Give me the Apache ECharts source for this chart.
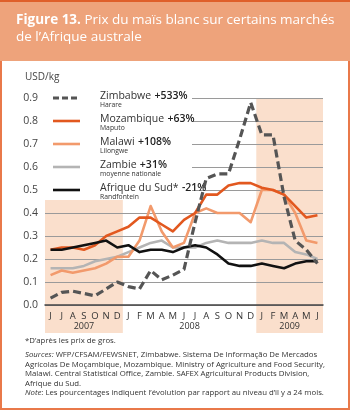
<!DOCTYPE html>
<html>
<head>
<meta charset="utf-8">
<script src="https://cdn.jsdelivr.net/npm/echarts@6/dist/echarts.min.js"></script>
<style>
  html, body { margin: 0; padding: 0; background: #fff; }
  #chart { width: 350px; height: 410px; }
</style>
</head>
<body>
<div id="chart"></div>
<script>
// month initials, June 2007 -> June 2009
const months = ['J','J','A','S','O','N','D','J','F','M','A','M','J','J','A','S','O','N','D','J','F','M','A','M','J']
const yearLabels = ['2007', '2008', '2009']
const yearSpans = [[0, 6], [7, 18], [19, 24]]
const yTicks = [0, 0.1, 0.2, 0.3, 0.4, 0.5, 0.6, 0.7, 0.8, 0.9]

// USD/kg
const zimbabwe    = [0.03,0.055,0.06,0.05,0.04,0.07,0.10,0.08,0.07,0.15,0.11,0.13,0.155,0.36,0.55,0.57,0.57,0.72,0.88,0.74,0.74,0.47,0.28,0.24,0.18]
const mozambique  = [0.24,0.25,0.25,0.24,0.26,0.30,0.32,0.34,0.38,0.38,0.35,0.32,0.37,0.40,0.48,0.48,0.52,0.53,0.53,0.51,0.50,0.48,0.43,0.38,0.39]
const malawi      = [0.13,0.15,0.14,0.15,0.16,0.18,0.21,0.21,0.28,0.43,0.32,0.25,0.27,0.40,0.42,0.40,0.40,0.40,0.36,0.50,0.50,0.48,0.40,0.28,0.27]
const zambie      = [0.16,0.16,0.16,0.17,0.19,0.20,0.21,0.23,0.25,0.27,0.28,0.25,0.25,0.25,0.27,0.28,0.27,0.27,0.27,0.28,0.27,0.27,0.23,0.22,0.20]
const afriqueSud  = [0.24,0.24,0.25,0.26,0.27,0.28,0.25,0.26,0.23,0.24,0.24,0.23,0.25,0.26,0.25,0.22,0.18,0.17,0.17,0.18,0.17,0.16,0.18,0.19,0.19]

const names   = ['Zimbabwe', 'Mozambique', 'Malawi', 'Zambie', 'Afrique du Sud*']
const changes = ['+533%', '+63%', '+108%', '+31%', '-21%']
const markets = ['Harare', 'Maputo', 'Lilongwe', 'moyenne nationale', 'Randfontein']
const values  = [zimbabwe, mozambique, malawi, zambie, afriqueSud]

const colors = ['#555555', '#e2581f', '#f29a6c', '#b4b4b4', '#111111']
const FONT = '"Open Sans", sans-serif'
const BAND = '#fadfcc'
const ORANGE = '#e9794a'

let chart = echarts.init(document.getElementById('chart'), null, { renderer: 'canvas' })

// draw grey/orange/black first so the dashed Zimbabwe line ends on top
const drawOrder = [3, 2, 1, 4, 0]
const series = drawOrder.map(i => ({
  name: names[i],
  type: 'line',
  data: values[i],
  symbol: 'none',
  z: 3 + drawOrder.indexOf(i),
  lineStyle: {
    color: colors[i],
    width: i === 0 ? 3.2 : 2.6,
    type: i === 0 ? [8, 4] : 'solid',
    cap: 'butt',
    join: 'round'
  }
}))

chart.setOption({
  animation: false,
  textStyle: { fontFamily: FONT },
  title: {
    text: '{b|Figure 13.} Prix du maïs blanc sur certains marchés\nde l\u2019Afrique australe',
    left: 11,
    top: 7,
    textStyle: {
      color: '#fff', fontSize: 13.5, fontWeight: 'normal', fontFamily: FONT, lineHeight: 17,
      rich: { b: { color: '#fff', fontSize: 13.5, fontWeight: 'bold', fontFamily: FONT, lineHeight: 17 } }
    }
  },
  grid: { left: 45, right: 27, top: 98, bottom: 105 },
  xAxis: {
    type: 'category',
    data: months,
    boundaryGap: true,
    axisLine: { lineStyle: { color: '#444', width: 1.5 } },
    axisTick: { inside: true, length: 5, alignWithLabel: true, lineStyle: { color: '#444', width: 1 } },
    axisLabel: { color: '#333', fontSize: 9.5, margin: 6, interval: 0, fontFamily: FONT }
  },
  yAxis: {
    type: 'value',
    min: yTicks[0],
    max: yTicks[yTicks.length - 1],
    interval: 0.1,
    axisLine: { show: false },
    axisTick: { show: false },
    axisLabel: { color: '#444', fontSize: 10.5, margin: 7, formatter: v => v.toFixed(1), fontFamily: FONT },
    splitLine: { lineStyle: { color: '#9a9a9a', width: 1 } }
  },
  series: series
})

// layout of extra pieces, positioned through the axes
const px = (i, v) => chart.convertToPixel({ gridIndex: 0 }, [i, v])
const step = px(1, 0)[0] - px(0, 0)[0]
const x0 = px(0, 0)[0]
const catLeft = i => x0 + (i - 0.5) * step
const catRight = i => x0 + (i + 0.5) * step
const yPix = v => px(0, v)[1]

const axisY = yPix(0)
const bandBottom = axisY + 28
const coverBottom = yPix(0.457)

const g = []
// title box and frame
g.push({ type: 'rect', z: -20, shape: { x: 0, y: 0, width: 350, height: 61 }, style: { fill: '#eea37b' } })
g.push({ type: 'rect', z: -19, shape: { x: 0, y: 0, width: 350, height: 2 }, style: { fill: '#df5f2a' } })
g.push({ type: 'rect', z: -19, shape: { x: 0, y: 61, width: 2, height: 349 }, style: { fill: ORANGE } })
g.push({ type: 'rect', z: -19, shape: { x: 348, y: 61, width: 2, height: 349 }, style: { fill: ORANGE } })
g.push({ type: 'rect', z: -19, shape: { x: 0, y: 408, width: 350, height: 2 }, style: { fill: ORANGE } })

// shaded year bands (2007 and 2009)
const s07 = yearSpans[0], s09 = yearSpans[2]
g.push({ type: 'rect', z: -10, shape: { x: catLeft(s07[0]), y: coverBottom, width: catRight(s07[1]) - catLeft(s07[0]), height: bandBottom - coverBottom }, style: { fill: BAND } })
g.push({ type: 'rect', z: -10, shape: { x: catLeft(s09[0]), y: yPix(0.9), width: catRight(s09[1]) - catLeft(s09[0]), height: bandBottom - yPix(0.9) }, style: { fill: BAND } })

// white panel behind the legend hides the upper grid lines
g.push({ type: 'rect', z: 1, shape: { x: catLeft(0) - 1, y: yPix(0.9) - 3, width: 192 - catLeft(0) + 1, height: coverBottom - yPix(0.9) + 3 }, style: { fill: '#fff' } })

// year labels
yearLabels.forEach((lab, k) => {
  const mid = (catLeft(yearSpans[k][0]) + catRight(yearSpans[k][1])) / 2
  g.push({ type: 'text', z: 5, x: mid, y: axisY + 21, style: { text: lab, fill: '#333', font: '9px ' + FONT, align: 'center', verticalAlign: 'middle' } })
})

// unit
g.push({ type: 'text', z: 5, x: 25, y: 77, style: { text: 'USD/kg', fill: '#444', font: '10px ' + FONT, verticalAlign: 'middle' } })

// legend, one row per grid level from 0.9 down
names.forEach((n, i) => {
  const y = yPix(0.9 - i * 0.1)
  g.push({ type: 'line', z: 5, shape: { x1: 53, y1: y, x2: 80, y2: y }, style: { stroke: colors[i], lineWidth: i === 0 ? 3 : 2.6, lineDash: i === 0 ? [6, 3] : null } })
  g.push({
    type: 'text', z: 5, x: 100, y: y - 2,
    style: {
      text: '{n|' + n + '} {p|' + changes[i] + '}',
      verticalAlign: 'middle',
      rich: {
        n: { fill: '#333', fontSize: 10.5, fontFamily: FONT },
        p: { fill: '#222', fontSize: 10.5, fontFamily: FONT, fontWeight: 600 }
      }
    }
  })
  g.push({ type: 'text', z: 5, x: 100, y: y + 7, style: { text: markets[i], fill: '#333', font: '6.8px ' + FONT, verticalAlign: 'middle' } })
})

// notes under the chart
const notes = [
  '*D\u2019après les prix de gros.',
  '{i|Sources:} WFP/CFSAM/FEWSNET, Zimbabwe. Sistema De Informação De Mercados',
  'Agrícolas De Moçambique, Mozambique. Ministry of Agriculture and Food Security,',
  'Malawi. Central Statistical Office, Zambie. SAFEX Agricultural Products Division,',
  'Afrique du Sud.',
  '{i|Note}: Les pourcentages indiquent l\u2019évolution par rapport au niveau d\u2019il y a 24 mois.'
]
const noteY = [341, 355, 364.5, 374, 383.5, 393]
notes.forEach((t, k) => {
  g.push({
    type: 'text', z: 5, x: 25, y: noteY[k],
    style: {
      text: t, verticalAlign: 'middle',
      fill: '#333', font: '7.8px ' + FONT,
      rich: { i: { fontStyle: 'italic', fill: '#333', fontSize: 7.8, fontFamily: FONT } }
    }
  })
})

chart.setOption({ graphic: { elements: g } })
</script>
</body>
</html>
